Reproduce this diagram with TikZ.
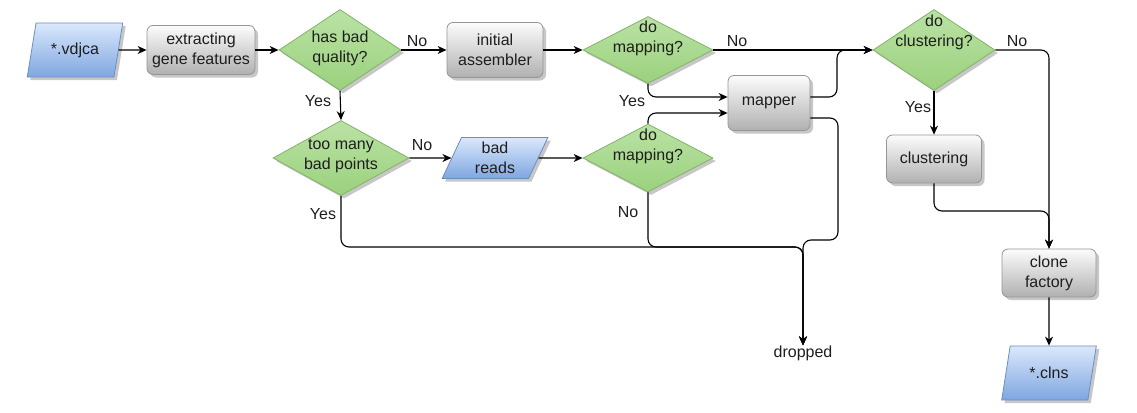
\documentclass[tikz,border=0pt]{standalone}
\usepackage{fontspec}
\setmainfont{Liberation Sans}
\usetikzlibrary{shapes.geometric,shadows,arrows.meta}
\definecolor{grnT}{RGB}{186,226,165}
\definecolor{grnB}{RGB}{155,209,125}
\definecolor{grnD}{RGB}{130,179,102}
\definecolor{bluT}{RGB}{218,232,252}
\definecolor{bluB}{RGB}{126,166,224}
\definecolor{bluD}{RGB}{108,142,191}
\definecolor{gryT}{RGB}{252,252,252}
\definecolor{gryB}{RGB}{176,176,176}
\definecolor{gryD}{RGB}{150,150,150}
\definecolor{txtC}{RGB}{30,30,30}
\tikzset{
  every node/.style={font=\fontsize{16}{20}\selectfont,text=txtC},
  shad/.style={drop shadow={shadow xshift=3pt,shadow yshift=-3pt,fill=black,opacity=0.22}},
  procbox/.style={rectangle,rounded corners=6pt,draw=gryD,line width=0.8pt,top color=gryT,bottom color=gryB,align=center,inner sep=0pt,shad},
  decision/.style={diamond,draw=grnD,line width=0.8pt,top color=grnT,bottom color=grnB,inner sep=0pt,shad},
  iobox/.style={trapezium,trapezium left angle=70,trapezium right angle=110,trapezium stretches=true,draw=bluD,line width=0.8pt,top color=bluT,bottom color=bluB,align=center,inner sep=0pt,shad},
  txt/.style={align=center,inner sep=0pt},
  lbl/.style={inner sep=0pt},
  conn/.style={draw=black,line width=1.1pt,rounded corners=8pt,-{Stealth[length=9pt,width=8pt]}}
}
\begin{document}
\begin{tikzpicture}[x=1pt,y=-1pt]
\path[use as bounding box] (0,0) rectangle (1137,412);
% row 1
\node[iobox,minimum width=96pt,minimum height=54pt] (vdjca) at (75,50) {*.vdjca};
\node[procbox,minimum width=108pt,minimum height=49pt] (extract) at (201,50) {extracting\\gene features};
\node[decision,minimum width=122pt,minimum height=81pt] (quality) at (340,50) {};
\node[txt] (qualityt) at (340,48) {has bad\\quality?};
\node[procbox,minimum width=96pt,minimum height=55pt] (assembler) at (495,50) {initial\\assembler};
\node[decision,minimum width=130pt,minimum height=67pt] (map1) at (648,50) {};
\node[txt] (map1t) at (648,38) {do\\mapping?};
\node[procbox,minimum width=82pt,minimum height=55pt] (mapper) at (769,103) {mapper};
\node[decision,minimum width=122pt,minimum height=81pt] (clust) at (934,50) {};
\node[txt] (clustt) at (934,32) {do\\clustering?};
% row 2
\node[decision,minimum width=136pt,minimum height=75pt] (toomany) at (341,158) {};
\node[txt] (toomanyt) at (341,156) {too many\\bad points};
\node[iobox,minimum width=106pt,minimum height=41pt] (badreads) at (495,158) {bad\\reads};
\node[decision,minimum width=130pt,minimum height=68pt] (map2) at (648,158) {};
\node[txt] (map2t) at (648,146) {do\\mapping?};
\node[procbox,minimum width=95pt,minimum height=48pt] (clustering) at (934,159) {clustering};
\node[procbox,minimum width=94pt,minimum height=48pt] (clone) at (1049,273) {clone\\factory};
\node[iobox,minimum width=95pt,minimum height=54pt] (clns) at (1049,373) {*.clns};
\node[lbl] (dropped) at (803,353) {dropped};
% labels
\node[lbl] (l1) at (417,41) {No};
\node[lbl] (l2) at (318,101) {Yes};
\node[lbl] (l3) at (422,145) {No};
\node[lbl] (l4) at (323,214) {Yes};
\node[lbl] (l5) at (737,41) {No};
\node[lbl] (l6) at (632,101) {Yes};
\node[lbl] (l7) at (628,212) {No};
\node[lbl] (l8) at (1017,41) {No};
\node[lbl] (l9) at (918,107) {Yes};
% helper coordinates
\coordinate (dj) at (803,247);
\coordinate (dj2) at (803,240);
\coordinate (mr) at (838,240);
\coordinate (mu) at (837,50);
\coordinate (cc) at (1049,211);
% connectors
\draw[conn] (vdjca.east) -- (extract.west);
\draw[conn] (extract.east) -- (quality.west);
\draw[conn] (quality.south) -- (toomany.north);
\draw[conn] (quality.east) -- (assembler.west);
\draw[conn] (assembler.east) -- (map1.west);
\draw[conn] (toomany.east) -- (badreads.west);
\draw[conn] (badreads.east) -- (map2.west);
\draw[conn] (map1.east) -- (clust.west);
\draw[conn] (map1.south) |- ([yshift=6pt]mapper.west);
\draw[conn] (map2.north) |- ([yshift=-10pt]mapper.west);
\draw[conn] ([yshift=6pt]mapper.east) -| (mu) -- (clust.west);
\draw[conn] (toomany.south) |- (dj) -- (dropped.north);
\draw[conn] (map2.south) |- (dj) -- (dropped.north);
\draw[conn] ([yshift=-15pt]mapper.east) -| (mr) -- (dj2) -- (dropped.north);
\draw[conn] (clust.south) -- (clustering.north);
\draw[conn] (clust.east) -| (clone.north);
\draw[conn] (clustering.south) |- (cc) -- (clone.north);
\draw[conn] (clone.south) -- (clns.north);
\end{tikzpicture}
\end{document}
